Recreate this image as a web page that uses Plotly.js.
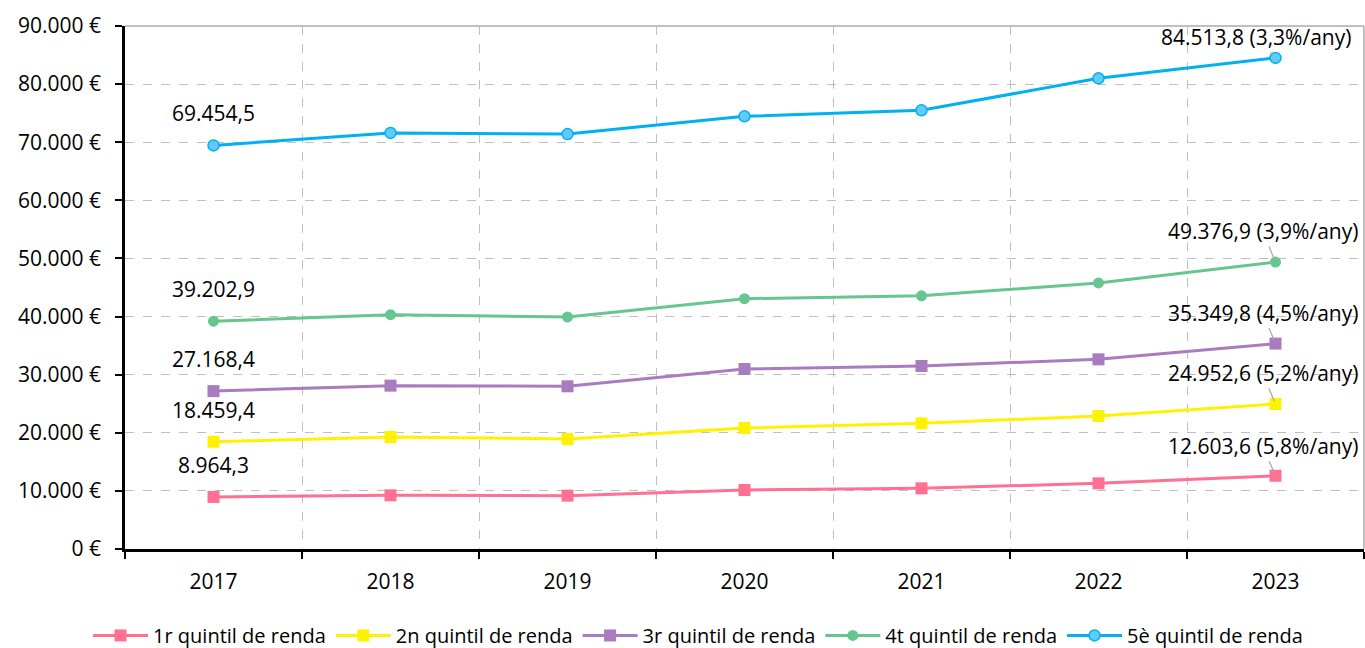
<!DOCTYPE html>
<html>
<head>
<meta charset="utf-8">
<script src="https://cdn.plot.ly/plotly-3.0.1.min.js"></script>
<style>html,body{margin:0;padding:0;background:#fff;}#chart{width:1365px;height:648px;}</style>
</head>
<body>
<div id="chart"></div>
<script>
const years = ['2017','2018','2019','2020','2021','2022','2023'];
const seriesNames = ['1r quintil de renda','2n quintil de renda','3r quintil de renda','4t quintil de renda','5è quintil de renda'];
const q1 = [8964.3, 9240, 9180, 10150, 10440, 11300, 12603.6];
const q2 = [18459.4, 19270, 18930, 20820, 21630, 22890, 24952.6];
const q3 = [27168.4, 28110, 28000, 30980, 31490, 32640, 35349.8];
const q4 = [39202.9, 40320, 39920, 43080, 43570, 45780, 49376.9];
const q5 = [69454.5, 71600, 71400, 74460, 75490, 81000, 84513.8];
const firstLabels = ['8.964,3','18.459,4','27.168,4','39.202,9','69.454,5'];
const lastLabels = ['12.603,6 (5,8%/any)','24.952,6 (5,2%/any)','35.349,8 (4,5%/any)','49.376,9 (3,9%/any)','84.513,8 (3,3%/any)'];

const allSeries = [q1,q2,q3,q4,q5];
const lineColors = ['#FF7092','#FFF200','#A97BBF','#66C690','#00B0F0'];
const markerFill = ['#FF7092','#FFF200','#A97BBF','#66C690','#62CBF5'];
const symbols = ['square','square','square','circle','circle'];
const msize = [12,12,12,11,11];

const FONT = 'Open Sans, sans-serif';
const traces = allSeries.map((vals,i)=>({
  type:'scatter', mode:'lines+markers', x:years, y:vals, name:seriesNames[i],
  line:{color:lineColors[i], width:3},
  marker:{symbol:symbols[i], size:msize[i], color:markerFill[i], line:{color:lineColors[i], width:i===4?1.5:0}},
  cliponaxis:false
}));

const annotations = [];
allSeries.forEach((vals,i)=>{
  annotations.push({x:0, y:vals[0], xref:'x', yref:'y', text:firstLabels[i], showarrow:false, yshift:32,
    font:{family:FONT, size:21, color:'#000'}});
  const last = years.length-1;
  const off = [[-13,-30],[-13,-31],[-13,-31],[-13,-31],[-20,-21]][i];
  annotations.push({x:last, y:vals[last], xref:'x', yref:'y', text:lastLabels[i], showarrow:true,
    arrowhead:0, arrowwidth:1.2, arrowcolor:'#A6A6A6', ax:off[0], ay:off[1], standoff:3,
    font:{family:FONT, size:21, color:'#000'}});
});

const layout = {
  width:1365, height:648,
  margin:{l:125, r:1, t:26, b:99, autoexpand:false},
  paper_bgcolor:'#fff', plot_bgcolor:'#fff',
  separators:',.',
  font:{family:FONT, size:21, color:'#000'},
  showlegend:true,
  legend:{orientation:'h', x:0.4625, xanchor:'center', y:-0.128, yanchor:'top',
    font:{family:FONT, size:20, color:'#000'}, itemwidth:55, tracegroupgap:0},
  xaxis:{type:'category', tickson:'boundaries', ticks:'outside', ticklen:7, tickwidth:2, tickcolor:'#000',
    showline:true, linecolor:'#000', linewidth:2.5, showgrid:true, gridcolor:'#BFBFBF', griddash:'dash', gridwidth:1,
    tickfont:{family:FONT, size:21}, zeroline:false, fixedrange:true, range:[-0.5,6.5], ticklabelstandoff:12, automargin:false},
  yaxis:{range:[0,90000], dtick:10000, tick0:0, tickformat:',.0f', ticksuffix:' €', ticks:'outside', ticklen:7, tickwidth:2,
    tickcolor:'#000', showline:true, linecolor:'#000', linewidth:2.5, showgrid:true, gridcolor:'#BFBFBF', griddash:'dash',
    gridwidth:1, zeroline:false, tickfont:{family:FONT, size:21}, ticklabelstandoff:10, fixedrange:true, automargin:false},
  shapes:[
    {type:'line', xref:'paper', yref:'paper', x0:0, x1:1, y0:1, y1:1, line:{color:'#BFBFBF', width:2}, layer:'below'},
    {type:'line', xref:'paper', yref:'paper', x0:1, x1:1, y0:0, y1:1, line:{color:'#BFBFBF', width:2}, layer:'below'}
  ],
  annotations:annotations
};

Plotly.newPlot('chart', traces, layout, {displayModeBar:false, responsive:false});
</script>
</body>
</html>
